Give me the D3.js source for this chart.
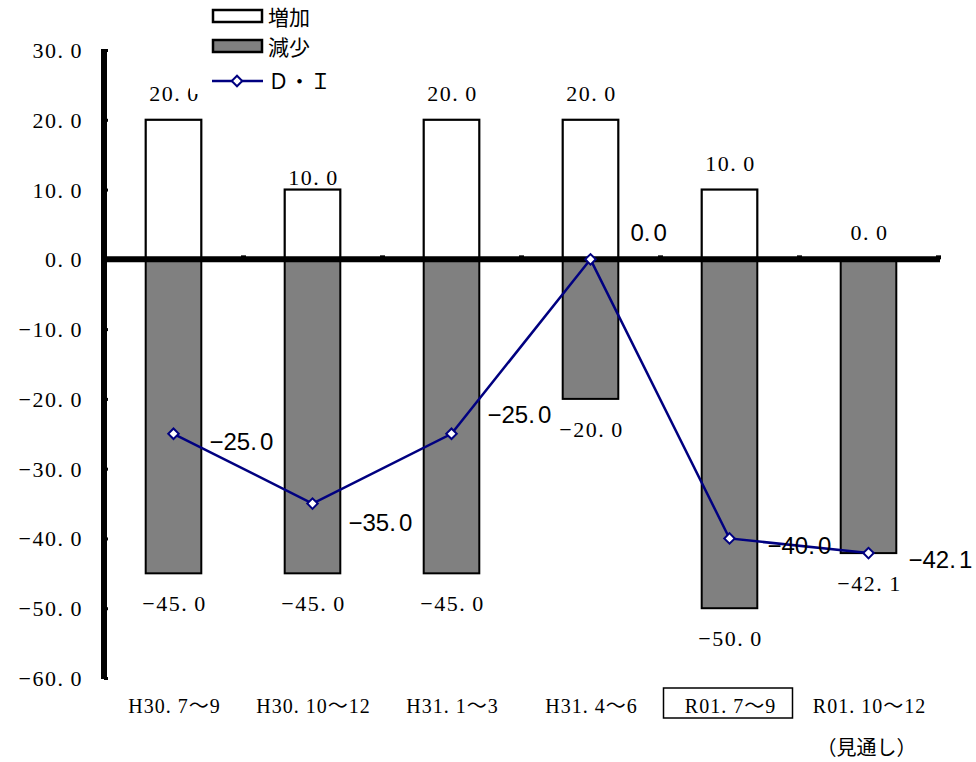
<!DOCTYPE html>
<html><head><meta charset="utf-8">
<script src="https://cdn.jsdelivr.net/npm/d3@7"></script>
<style>
body{margin:0;background:#fff;}
svg{display:block;}
</style></head>
<body>
<svg id="c" width="976" height="762"></svg>
<script>
const categories = ["H30.7～9","H30.10～12","H31.1～3","H31.4～6","R01.7～9","R01.10～12"];
const increase = [20.0, 10.0, 20.0, 20.0, 10.0, 0.0];
const decrease = [-45.0, -45.0, -45.0, -20.0, -50.0, -42.1];
const di = [-25.0, -35.0, -25.0, 0.0, -40.0, -42.1];
const yTicks = [30, 20, 10, 0, -10, -20, -30, -40, -50, -60];
const seriesNames = ["増加", "減少", "Ｄ・Ｉ"];
const highlightCategory = "R01.7～9";
const forecastNote = "（見通し）";

// layout-only nudges for labels (dx, dy)
const diLabelNudge = [[36,7],[36,18],[36,-20],[40,-27],[38,7],[40,6]];
const incLabelNudge = [0, 14, 0, 0, 0, 0];

const serif = "'Liberation Serif','Noto Sans CJK JP',serif";
const cjk = "'Noto Sans CJK JP','Liberation Serif',serif";
const sans = "'Liberation Sans','Noto Sans CJK JP',sans-serif";

// writes text, adding an extra gap after the period (Mincho-like half-width look)
function spaced(sel, getText, gap) {
  sel.each(function(d, i) {
    const t = getText(d, i);
    const el = d3.select(this);
    const k = t.indexOf(".");
    if (k < 0) { el.text(t); return; }
    el.append("tspan").text(t.slice(0, k + 1));
    el.append("tspan").attr("dx", gap).text(t.slice(k + 1));
  });
}

const svg = d3.select("#c");
const x0 = 104, x1 = 938;
const x = d3.scaleBand().domain(categories).range([x0, x1]).padding(0);
const y = d3.scaleLinear().domain([-60, 30]).range([678, 50]);
const bw = x.bandwidth() * 0.4;
const cx = c => x(c) + x.bandwidth() / 2;

// bars
const g = svg.append("g");
g.selectAll("rect.dec").data(categories).join("rect")
  .attr("x", c => cx(c) - bw/2).attr("width", bw)
  .attr("y", (c,i) => y(0)).attr("height", (c,i) => y(decrease[i]) - y(0))
  .attr("fill", "#808080").attr("stroke", "#000").attr("stroke-width", 2);
g.selectAll("rect.inc").data(categories).join("rect")
  .attr("x", c => cx(c) - bw/2).attr("width", bw)
  .attr("y", (c,i) => y(increase[i])).attr("height", (c,i) => y(0) - y(increase[i]))
  .attr("fill", "#fff").attr("stroke", "#000").attr("stroke-width", 2.2);

// bar labels
const fmt = d3.format(".1f");
const lab = v => fmt(v).replace("-", "−");
g.selectAll("text.inc").data(categories).join("text")
  .attr("x", c => cx(c) + 1).attr("y", (c,i) => y(increase[i]) - 19 + incLabelNudge[i])
  .attr("text-anchor", "middle").attr("font-family", serif).attr("font-size", 22)
  .attr("letter-spacing", 1.5)
  .call(spaced, (c,i) => lab(increase[i]), 6);
g.selectAll("text.dec").data(categories).join("text")
  .attr("x", c => cx(c) + 1).attr("y", (c,i) => y(decrease[i]) + 38)
  .attr("text-anchor", "middle").attr("font-family", serif).attr("font-size", 22)
  .attr("letter-spacing", 1.5)
  .call(spaced, (c,i) => lab(decrease[i]), 6);

// y axis
const yAxis = d3.axisRight(y).tickValues(yTicks).tickSize(4).tickFormat(() => "");
const ya = svg.append("g").attr("transform", `translate(${x0},0)`).call(yAxis);
ya.select(".domain").remove();
ya.selectAll(".tick line").attr("stroke", "#000").attr("stroke-width", 3);
svg.append("line").attr("x1", x0).attr("x2", x0).attr("y1", y(30) - 1).attr("y2", y(-60) + 1)
  .attr("stroke", "#000").attr("stroke-width", 6);
svg.selectAll("text.yl").data(yTicks).join("text")
  .attr("x", 83).attr("y", d => y(d) + 8)
  .attr("text-anchor", "end").attr("font-family", serif).attr("font-size", 22)
  .attr("letter-spacing", 1.5)
  .call(spaced, d => lab(d), 6);

// x axis (zero line)
const xBounds = categories.map(c => x(c) + x.bandwidth());
const xAxis = d3.axisTop(d3.scaleLinear().domain([x0, x1]).range([x0, x1]))
  .tickValues(xBounds).tickSize(4).tickFormat(() => "");
const xa = svg.append("g").attr("transform", `translate(0,${y(0)})`).call(xAxis);
xa.select(".domain").remove();
xa.selectAll(".tick line").attr("stroke", "#000").attr("stroke-width", 5);
svg.append("line").attr("x1", x0).attr("x2", x1 + 2).attr("y1", y(0)).attr("y2", y(0))
  .attr("stroke", "#000").attr("stroke-width", 6);

// x labels
svg.selectAll("text.xl").data(categories).join("text")
  .attr("x", c => cx(c) + 1).attr("y", 713)
  .attr("text-anchor", "middle").attr("font-family", serif).attr("font-size", 20)
  .attr("letter-spacing", 1)
  .call(spaced, c => c, 6);
const hc = cx(highlightCategory);
svg.append("rect").attr("x", hc - 66).attr("y", 688).attr("width", 129).attr("height", 30)
  .attr("fill", "none").attr("stroke", "#000").attr("stroke-width", 1.5);
svg.append("text").attr("x", cx(categories[categories.length-1]) - 2).attr("y", 755)
  .attr("text-anchor", "middle").attr("font-family", cjk).attr("font-size", 20)
  .text(forecastNote);

// DI line
const line = d3.line().x((d,i) => cx(categories[i])).y(d => y(d));
svg.append("path").datum(di).attr("d", line)
  .attr("fill", "none").attr("stroke", "#000080").attr("stroke-width", 2.5);
svg.selectAll("path.m").data(di).join("path")
  .attr("d", d3.symbol().type(d3.symbolSquare).size(55))
  .attr("transform", (d,i) => `translate(${cx(categories[i])},${y(d)}) rotate(45)`)
  .attr("fill", "#fff").attr("stroke", "#000080").attr("stroke-width", 2);
svg.selectAll("text.di").data(di).join("text")
  .attr("x", (d,i) => cx(categories[i]) + diLabelNudge[i][0])
  .attr("y", (d,i) => y(d) + diLabelNudge[i][1] + 9)
  .attr("font-family", sans).attr("font-size", 24)
  .call(spaced, d => lab(d), 3);

// legend
const lg = svg.append("g");
lg.append("rect").attr("x", 190).attr("y", 0).attr("width", 160).attr("height", 94).attr("fill", "#fff");
lg.append("rect").attr("x", 213).attr("y", 10).attr("width", 49).attr("height", 12)
  .attr("fill", "#fff").attr("stroke", "#000").attr("stroke-width", 2.5);
lg.append("rect").attr("x", 213).attr("y", 40).attr("width", 49).attr("height", 12)
  .attr("fill", "#808080").attr("stroke", "#000").attr("stroke-width", 2.5);
lg.append("line").attr("x1", 212).attr("x2", 263).attr("y1", 81).attr("y2", 81)
  .attr("stroke", "#000080").attr("stroke-width", 2.5);
lg.append("path").attr("d", d3.symbol().type(d3.symbolSquare).size(55))
  .attr("transform", "translate(237,81) rotate(45)")
  .attr("fill", "#fff").attr("stroke", "#000080").attr("stroke-width", 2);
lg.selectAll("text").data(seriesNames).join("text")
  .attr("x", 268).attr("y", (d,i) => [25, 55, 89][i])
  .attr("font-family", cjk).attr("font-size", 21)
  .text(d => d);
</script>
</body></html>
